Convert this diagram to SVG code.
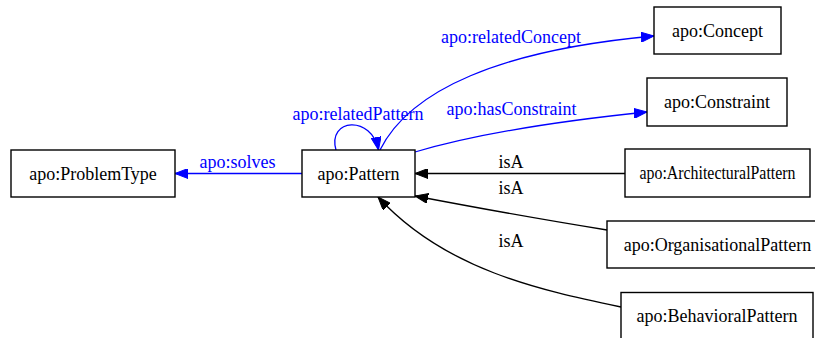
<svg xmlns="http://www.w3.org/2000/svg" width="815" height="338" viewBox="0 0 815 338">
<style>
.box{fill:#fff;stroke:#000;stroke-width:1.4}
.t{font-family:"Liberation Serif","Times New Roman",Times,serif;font-size:18px;fill:#000;text-anchor:middle}
.e{fill:none;stroke-width:1.3}
.blue{stroke:#0000ff}
.black{stroke:#000}
.lb{fill:#0000ff}
</style>
<defs>
<marker id="ab" viewBox="0 0 13 10" refX="13" refY="5" markerWidth="13" markerHeight="10" orient="auto" markerUnits="userSpaceOnUse"><path d="M0,0L13,5L0,10z" fill="#0000ff" stroke="#0000ff" stroke-width="1"/></marker>
<marker id="ak" viewBox="0 0 13 10" refX="13" refY="5" markerWidth="13" markerHeight="10" orient="auto" markerUnits="userSpaceOnUse"><path d="M0,0L13,5L0,10z" fill="#000" stroke="#000" stroke-width="1"/></marker>
</defs>
<rect width="815" height="338" fill="#fff"/>
<g id="edges">
<path class="e blue" d="M302,173.5L175,173.5" marker-end="url(#ab)"/>
<path class="e blue" d="M336,150C327,118 372,115 378.5,150" marker-end="url(#ab)"/>
<path class="e blue" d="M380,150C410,90 500,50 654,36" marker-end="url(#ab)"/>
<path class="e blue" d="M415,152Q500,127 647,112" marker-end="url(#ab)"/>
<path class="e black" d="M625,173.5L415,173.5" marker-end="url(#ak)"/>
<path class="e black" d="M607,230Q520,216 415,196" marker-end="url(#ak)"/>
<path class="e black" d="M621,307C540,290 445,270 378,197" marker-end="url(#ak)"/>
<text class="t lb" x="237.5" y="168">apo:solves</text>
<text class="t lb" x="358" y="120">apo:relatedPattern</text>
<text class="t lb" x="511" y="43">apo:relatedConcept</text>
<text class="t lb" x="511.5" y="115">apo:hasConstraint</text>
<text class="t" x="511" y="168">isA</text>
<text class="t" x="511" y="194">isA</text>
<text class="t" x="511" y="247">isA</text>
</g>
<g id="ProblemType"><rect class="box" x="11" y="150" width="164" height="47"/><text class="t" x="93" y="179.5">apo:ProblemType</text></g>
<g id="Pattern"><rect class="box" x="302" y="150" width="113" height="47"/><text class="t" x="358.5" y="179.5">apo:Pattern</text></g>
<g id="Concept"><rect class="box" x="654" y="7" width="127" height="47"/><text class="t" x="717.5" y="36.5">apo:Concept</text></g>
<g id="Constraint"><rect class="box" x="647" y="78" width="140" height="48"/><text class="t" x="717" y="108">apo:Constraint</text></g>
<g id="ArchitecturalPattern"><rect class="box" x="625" y="149" width="185" height="48"/><text class="t" x="717.5" y="179" textLength="156" lengthAdjust="spacingAndGlyphs">apo:ArchitecturalPattern</text></g>
<g id="OrganisationalPattern"><rect class="box" x="607" y="221" width="220" height="47"/><text class="t" x="717.5" y="250.5">apo:OrganisationalPattern</text></g>
<g id="BehavioralPattern"><rect class="box" x="621" y="292.5" width="192" height="48"/><text class="t" x="717" y="322">apo:BehavioralPattern</text></g>
</svg>
